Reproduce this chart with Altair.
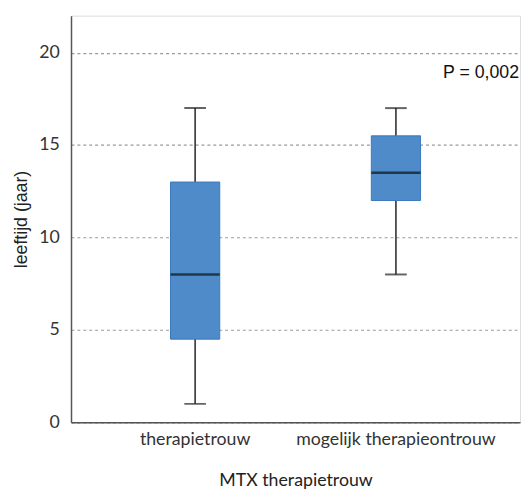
import altair as alt
import pandas as pd

groups = ["therapietrouw", "mogelijk therapieontrouw"]
mins = [1, 8]
q1s = [4.5, 12]
medians = [8, 13.5]
q3s = [13, 15.5]
maxs = [17, 17]

df = pd.DataFrame({"groep": groups, "min": mins, "q1": q1s, "median": medians,
                   "q3": q3s, "max": maxs})

FONT = "Lato"

x = alt.X("groep:N", sort=groups, title="MTX therapietrouw",
          scale=alt.Scale(paddingOuter=0.118, paddingInner=0),
          axis=alt.Axis(labelAngle=0, labelFontSize=18, labelColor="#333",
                        labelFont=FONT, labelPadding=8, labelLimit=400, ticks=False,
                        domainColor="#555", domainWidth=1.5,
                        titleFont=FONT, titleFontSize=18, titleFontWeight="normal",
                        titleColor="#222", titlePadding=24))
yscale = alt.Scale(domain=[0, 22], nice=False)
yaxis = alt.Axis(values=[0, 5, 10, 15, 20], title="leeftijd (jaar)", grid=True,
                 gridDash=[3, 3], gridColor="#9a9a9a", gridWidth=1.2,
                 ticks=False, domainColor="#555", domainWidth=1.5,
                 labelFontSize=18, labelFont=FONT, labelColor="#333", labelPadding=12,
                 titleFont="Liberation Sans", titleFontSize=18, titleFontWeight="normal",
                 titleColor="#222", titlePadding=8)

base = alt.Chart(df)

whisker = base.mark_rule(color="#222", strokeWidth=1.5).encode(
    x=x, y=alt.Y("min:Q", scale=yscale, axis=yaxis), y2="max:Q")
box = base.mark_bar(size=50, color="#4f8bc9", stroke="#3a78be", strokeWidth=1).encode(
    x=x, y=alt.Y("q1:Q"), y2="q3:Q")
med = base.mark_tick(color="#111", size=50, thickness=2.5).encode(x=x, y="median:Q")
capl = base.mark_tick(color="#222", size=22, thickness=2).encode(x=x, y="min:Q")
caph = base.mark_tick(color="#222", size=22, thickness=2).encode(x=x, y="max:Q")

ptext = alt.Chart(pd.DataFrame({"t": ["P = 0,002"], "yv": [18.87]})).mark_text(
    align="right", baseline="middle", fontSize=18, font="Liberation Sans", color="#111"
).encode(x=alt.value(455), y=alt.Y("yv:Q", scale=yscale), text="t:N")

chart = alt.layer(whisker, box, med, capl, caph, ptext).properties(
    width=456, height=413, autosize="none",
    padding={"left": 64, "top": 4, "right": 2, "bottom": 71}
).configure_view(stroke=None).configure(background="white")

chart.save("out.html", embed_options={"renderer": "svg", "actions": False})
